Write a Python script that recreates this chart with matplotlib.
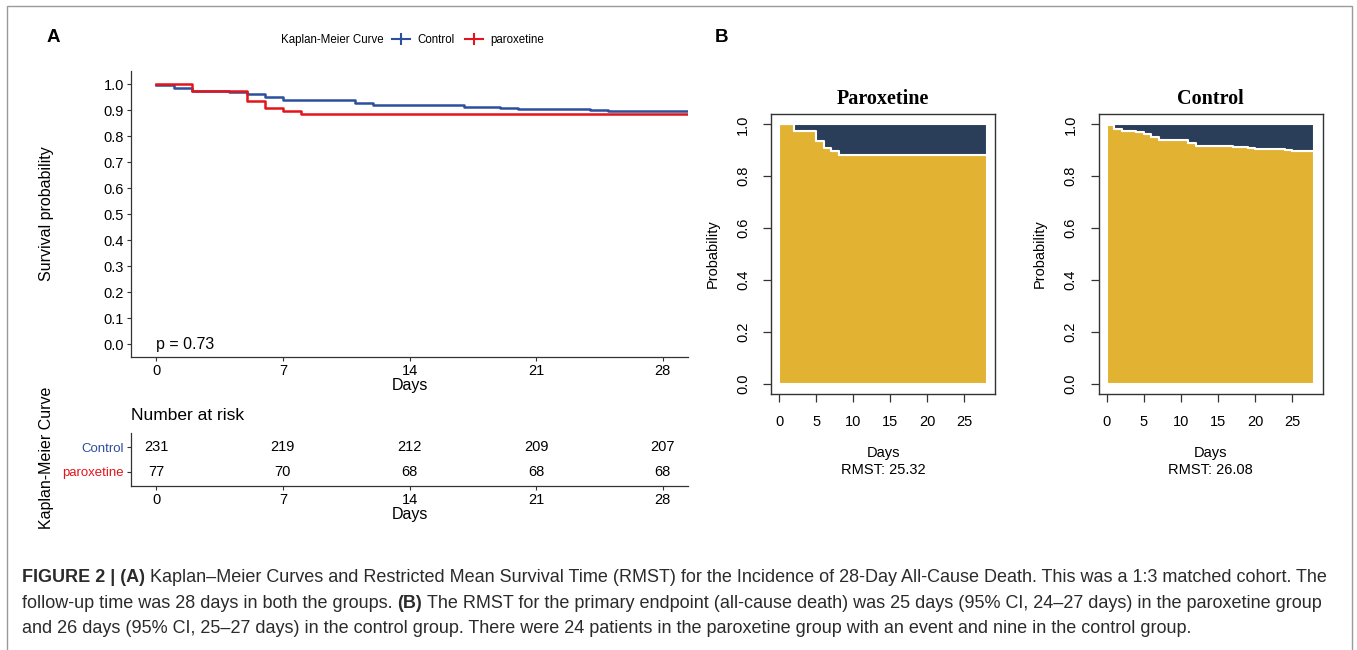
#!/usr/bin/env python3
"""
Figure 2: Kaplan-Meier curves (A) with risk table and RMST area plots (B)
for 28-day all-cause death, paroxetine vs control (1:3 matched cohort).

Output: out.png
"""
import matplotlib

matplotlib.use("Agg")
import matplotlib.pyplot as plt
from matplotlib.lines import Line2D
from matplotlib.patches import Rectangle

plt.rcParams["font.family"] = ["Liberation Sans", "DejaVu Sans"]

# ---- data ----
# step times (days) and survival just after each step; last entry = end of follow-up
CTRL_TIME = [0, 1, 2, 4, 5, 6, 7, 11, 12, 17, 19, 20, 24, 25, 30]
CTRL_SURV = [0.996, 0.983, 0.974, 0.970, 0.961, 0.950, 0.940, 0.927, 0.918,
             0.913, 0.909, 0.905, 0.900, 0.896, 0.896]
PAROX_TIME = [0, 2, 5, 6, 7, 8, 30]
PAROX_SURV = [1.0, 0.974, 0.935, 0.909, 0.896, 0.883, 0.883]

RISK_TIMES = [0, 7, 14, 21, 28]
RISK_CTRL = [231, 219, 212, 209, 207]
RISK_PAROX = [77, 70, 68, 68, 68]
P_VALUE = "p = 0.73"

TAU = 28
RMST_PAROX = 25.32
RMST_CTRL = 26.08

CAPTION = [
    [("FIGURE 2 | (A)", "bold"),
     ("Kaplan\u2013Meier Curves and Restricted Mean Survival Time (RMST) for the Incidence "
      "of 28-Day All-Cause Death. This was a 1:3 matched cohort. The", "normal")],
    [("follow-up time was 28 days in both the groups.", "normal"), ("(B)", "bold"),
     ("The RMST for the primary endpoint (all-cause death) was 25 days (95% CI, 24\u201327 "
      "days) in the paroxetine group", "normal")],
    [("and 26 days (95% CI, 25\u201327 days) in the control group. There were 24 patients "
      "in the paroxetine group with an event and nine in the control group.", "normal")],
]

BLUE = "#2C4F9E"
RED = "#E3141B"
GOLD = "#E2B233"
NAVY = "#2A3D59"
AXC = "#333333"

W, H = 1357, 650


def fx(px):
    return px / W


def fy(py):
    return 1 - py / H


def box(l, t, r, b):
    return [fx(l), fy(b), fx(r - l), (b - t) / H]


def km_truncated(times, surv, tau):
    t = [x for x in times if x < tau] + [tau]
    s = surv[:len(t) - 1] + [surv[len(t) - 2]]
    return t, s


fig = plt.figure(figsize=(W / 100, H / 100), dpi=100)

# ---------------- panel A: KM curve ----------------
ax = fig.add_axes(box(131, 71, 688, 357))
ax.step(CTRL_TIME, CTRL_SURV, where="post", color=BLUE, lw=1.8)
ax.step(PAROX_TIME, PAROX_SURV, where="post", color=RED, lw=1.8)
ax.set_xlim(-1.4, 29.4)
ax.set_ylim(-0.05, 1.05)
ax.set_xticks(RISK_TIMES)
ax.set_yticks([i / 10 for i in range(11)])
ax.set_yticklabels([f"{i / 10:.1f}" for i in range(11)])
ax.text(0, 0.0, P_VALUE, ha="left", va="center", fontsize=11.5)
ax.set_xlabel("Days", fontsize=11.5, labelpad=0)
for side in ("top", "right"):
    ax.spines[side].set_visible(False)
for side in ("left", "bottom"):
    ax.spines[side].set_color(AXC)
    ax.spines[side].set_linewidth(0.9)
ax.tick_params(length=3, width=0.8, color=AXC, labelsize=10.5, pad=2)

fig.text(fx(47), fy(214), "Survival probability", rotation=90, ha="center",
         va="center", fontsize=11.5)

# legend
fig.text(fx(384), fy(40), "Kaplan-Meier Curve", ha="right", va="center", fontsize=8.3)
handles = [Line2D([], [], color=BLUE, lw=1.5, marker="|", markersize=8, mew=1.5),
           Line2D([], [], color=RED, lw=1.5, marker="|", markersize=8, mew=1.5)]
fig.legend(handles, ["Control", "paroxetine"], loc="center left",
           bbox_to_anchor=(fx(392), fy(40)), ncol=2, frameon=False, fontsize=8.3,
           handlelength=1.6, handletextpad=0.6, columnspacing=0.9, borderpad=0,
           borderaxespad=0)

fig.text(fx(47), fy(37), "A", fontsize=13.5, weight="bold", va="center", ha="left")

# ---------------- panel A: risk table ----------------
ax2 = fig.add_axes(box(131, 433, 688, 486))
ax2.set_xlim(-1.4, 29.4)
ax2.set_ylim(0.4, 2.6)
for t, nc, npx in zip(RISK_TIMES, RISK_CTRL, RISK_PAROX):
    ax2.text(t, 2, str(nc), ha="center", va="center", fontsize=10.5)
    ax2.text(t, 1, str(npx), ha="center", va="center", fontsize=10.5)
ax2.set_xticks(RISK_TIMES)
ax2.set_yticks([2, 1])
ax2.set_yticklabels(["Control", "paroxetine"])
for lbl, c in zip(ax2.get_yticklabels(), (BLUE, RED)):
    lbl.set_color(c)
for side in ("top", "right"):
    ax2.spines[side].set_visible(False)
for side in ("left", "bottom"):
    ax2.spines[side].set_color(AXC)
    ax2.spines[side].set_linewidth(0.9)
ax2.tick_params(length=3, width=0.8, color=AXC, labelsize=10.5, pad=2)
ax2.tick_params(axis="y", labelsize=9.5)
ax2.set_xlabel("Days", fontsize=11.5, labelpad=0)
fig.text(fx(131), fy(416), "Number at risk", ha="left", va="center", fontsize=12.5)
fig.text(fx(47), fy(458), "Kaplan-Meier Curve", rotation=90, ha="center",
         va="center", fontsize=11.5)

# ---------------- panel B: RMST plots ----------------
fig.text(fx(715), fy(37), "B", fontsize=13.5, weight="bold", va="center", ha="left")

panels = [
    ("Paroxetine", PAROX_TIME, PAROX_SURV, RMST_PAROX, (771, 995), 713),
    ("Control", CTRL_TIME, CTRL_SURV, RMST_CTRL, (1098.5, 1322.8), 1040),
]
for title, times, surv, rmst, (left, right), ylab_x in panels:
    axb = fig.add_axes(box(left, 114, right, 394))
    t, s = km_truncated(times, surv, TAU)
    axb.fill_between(t, 0, s, step="post", facecolor=GOLD, edgecolor="white", lw=1.5)
    axb.fill_between(t, s, 1, step="post", facecolor=NAVY, edgecolor="white", lw=1.5)
    axb.set_xlim(-1.12, 29.12)
    axb.set_ylim(-0.04, 1.04)
    axb.set_xticks(range(0, 26, 5))
    axb.set_yticks([0, 0.2, 0.4, 0.6, 0.8, 1.0])
    axb.set_yticklabels(["0.0", "0.2", "0.4", "0.6", "0.8", "1.0"])
    for lbl in axb.get_yticklabels():
        lbl.set_rotation(90)
        lbl.set_va("center")
    for sp in axb.spines.values():
        sp.set_color(AXC)
        sp.set_linewidth(1.0)
    axb.tick_params(length=6, width=0.9, color=AXC, labelsize=10.5, pad=9)
    axb.set_title(title, fontsize=14.5, weight="bold", family="Liberation Serif", pad=7)
    cx = (left + right) / 2
    fig.text(fx(cx), fy(453), "Days", ha="center", va="center", fontsize=10.5)
    fig.text(fx(cx), fy(470), f"RMST: {rmst:.2f}", ha="center", va="center", fontsize=10.5)
    fig.text(fx(ylab_x), fy(254), "Probability", rotation=90, ha="center",
             va="center", fontsize=10.5)

# ---------------- caption ----------------
renderer = fig.canvas.get_renderer()
CAP_SIZE = 13.0
CAP_COLOR = "#2b2b2b"


def text_width(s, weight):
    t = fig.text(0, 0, s, fontsize=CAP_SIZE, weight=weight)
    w = t.get_window_extent(renderer).width
    t.remove()
    return w


space_w = text_width("a a", "normal") - text_width("aa", "normal")
for line, base in zip(CAPTION, (582, 608, 633)):
    x = 22
    for s, weight in line:
        t = fig.text(fx(x), fy(base), s, fontsize=CAP_SIZE, weight=weight,
                     color=CAP_COLOR, va="baseline", ha="left")
        x += t.get_window_extent(renderer).width + space_w

# outer frame of the figure
fig.add_artist(Rectangle((fx(7), -0.02), fx(1352 - 7), fy(6) + 0.02,
                         transform=fig.transFigure, fill=False,
                         edgecolor="#9a9a9a", lw=1.0))

fig.savefig("out.png", dpi=100)
